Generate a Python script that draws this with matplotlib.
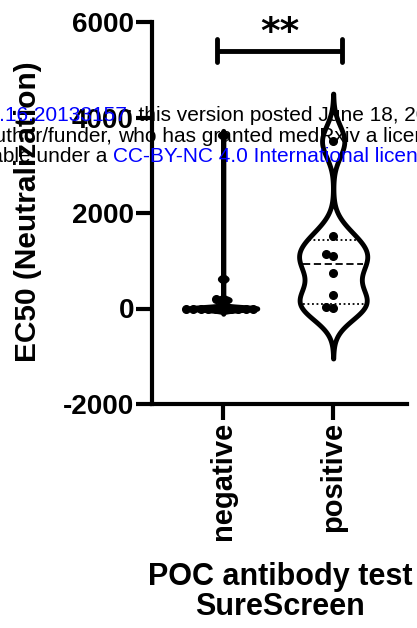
"""Violin plot of EC50 (neutralization) split by POC antibody test result."""

import matplotlib

matplotlib.use("Agg")

import matplotlib.pyplot as plt
import numpy as np

plt.rcParams["font.family"] = ["Liberation Sans", "DejaVu Sans"]

# --- data ---
categories = ["negative", "positive"]
negative_ec50 = [0, 0, 0, 0, 0, 0, 0, 0, 0, 0, 170, 190, 620, 3630]
positive_ec50 = [20, 40, 280, 750, 1100, 1140, 1520, 3500]
bandwidths = [30, 330]
y_ticks = [-2000, 0, 2000, 4000, 6000]
significance = "**"

W, H = 417, 628
fig = plt.figure(figsize=(W / 100, H / 100), dpi=100)
ax = fig.add_axes([152 / W, 1 - 404 / H, 254.5 / W, 382 / H])
ax.set_xlim(-0.648, 1.667)
ax.set_ylim(-2000, 6000)

LW = 3.5
HALF_WIDTH = 0.31


def kde(values, bw, cut=4.0, floor=0.01, n=6000):
    """Gaussian KDE on a grid around the data, trimmed where the tails fade out."""
    v = np.asarray(values, dtype=float)
    grid = np.linspace(v.min() - cut * bw, v.max() + cut * bw, n)
    dens = np.exp(-0.5 * ((grid[:, None] - v[None, :]) / bw) ** 2).sum(axis=1)
    keep = np.where(dens >= floor)[0]
    sl = slice(keep[0], keep[-1] + 1)
    grid, dens = grid[sl], dens[sl]
    return grid, dens / dens.max()


def swarm_offsets(values, diameter_px):
    """Simple beeswarm: push each point sideways until it no longer overlaps."""
    to_px = ax.transData
    order = np.argsort(values)
    placed = []
    offsets = np.zeros(len(values))
    px_per_x = to_px.transform((1, 0))[0] - to_px.transform((0, 0))[0]
    for i in order:
        ypx = to_px.transform((0, values[i]))[1]
        k = 0
        while True:
            for cand in ([0.0] if k == 0 else [-k * diameter_px, k * diameter_px]):
                if all(np.hypot(cand - px, ypx - py) >= diameter_px * 0.98 for px, py in placed):
                    offsets[i] = cand / px_per_x
                    placed.append((cand, ypx))
                    break
            else:
                k += 1
                continue
            break
    return offsets


groups = [negative_ec50, positive_ec50]
for pos, (vals, bw) in enumerate(zip(groups, bandwidths)):
    grid, dens = kde(vals, bw)
    half = dens * HALF_WIDTH
    ax.fill_betweenx(grid, pos - half, pos + half, facecolor="white",
                     edgecolor="black", linewidth=LW, joinstyle="round", zorder=2)

    q1, med, q3 = np.percentile(vals, [25, 50, 75], method="weibull")
    for q, style in ((q1, (0, (1, 1.5))), (med, (0, (4, 2))), (q3, (0, (1, 1.5)))):
        w = np.interp(q, grid, half) - 0.025
        ax.plot([pos - w, pos + w], [q, q], color="black", lw=1.3,
                linestyle=style, zorder=3)

    offs = swarm_offsets(np.asarray(vals, dtype=float), 7.5)
    ax.plot(pos + offs, vals, "o", color="black", ms=5.5, zorder=4, clip_on=False)

# --- significance bracket ---
bx0, bx1, by = -0.06, 1.08, 5400
ax.plot([bx0, bx1], [by, by], color="black", lw=LW, solid_capstyle="butt", clip_on=False)
for bx in (bx0, bx1):
    ax.plot([bx, bx], [by - 240, by + 240], color="black", lw=LW,
            solid_capstyle="round", clip_on=False)
ax.text(0.515, 5550, significance, ha="center", va="baseline", fontsize=27,
        fontweight="bold", family="DejaVu Sans", clip_on=False)

# --- axes styling ---
for side in ("top", "right"):
    ax.spines[side].set_visible(False)
for side in ("left", "bottom"):
    ax.spines[side].set_linewidth(3)
ax.set_yticks(y_ticks)
ax.set_yticklabels([str(t) for t in y_ticks])
ax.set_xticks(range(len(categories)))
ax.set_xticklabels(categories, rotation=90)
ax.tick_params(width=3, length=11.5, pad=1.5)
ax.tick_params(axis="y", labelsize=20)
ax.tick_params(axis="x", labelsize=21)
for lab in ax.get_xticklabels() + ax.get_yticklabels():
    lab.set_fontweight("bold")

fig.text(28 / W, 1 - 212 / H, "EC50 (Neutralization)", rotation=90, ha="center",
         va="center", fontsize=21.5, fontweight="bold")
fig.text(280 / W, 1 - 562 / H, "POC antibody test\nSureScreen", ha="center",
         va="top", fontsize=22, fontweight="bold", linespacing=1.02)

# --- medRxiv watermark overlay ---
wm = dict(fontsize=15, va="baseline", zorder=10)
blue = "#0000ff"
fig.text(127 / W, 1 - 120.7 / H, "doi.org/10.1101/2020.06.16.20133157", ha="right",
         color=blue, **wm)
fig.text(127 / W, 1 - 120.7 / H, "; this version posted June 18, 2020. The copyright",
         ha="left", color="black", **wm)
fig.text(112 / W, 1 - 141.5 / H, "is the author/funder,", ha="right", color="black", **wm)
fig.text(118 / W, 1 - 141.5 / H, "who has granted medRxiv a license to display",
         ha="left", color="black", **wm)
fig.text(107 / W, 1 - 161.5 / H, "It is made available under a", ha="right",
         color="black", **wm)
fig.text(113 / W, 1 - 161.5 / H, "CC-BY-NC 4.0 International license", ha="left",
         color=blue, **wm)

fig.savefig("out.png", dpi=100)
plt.close(fig)
